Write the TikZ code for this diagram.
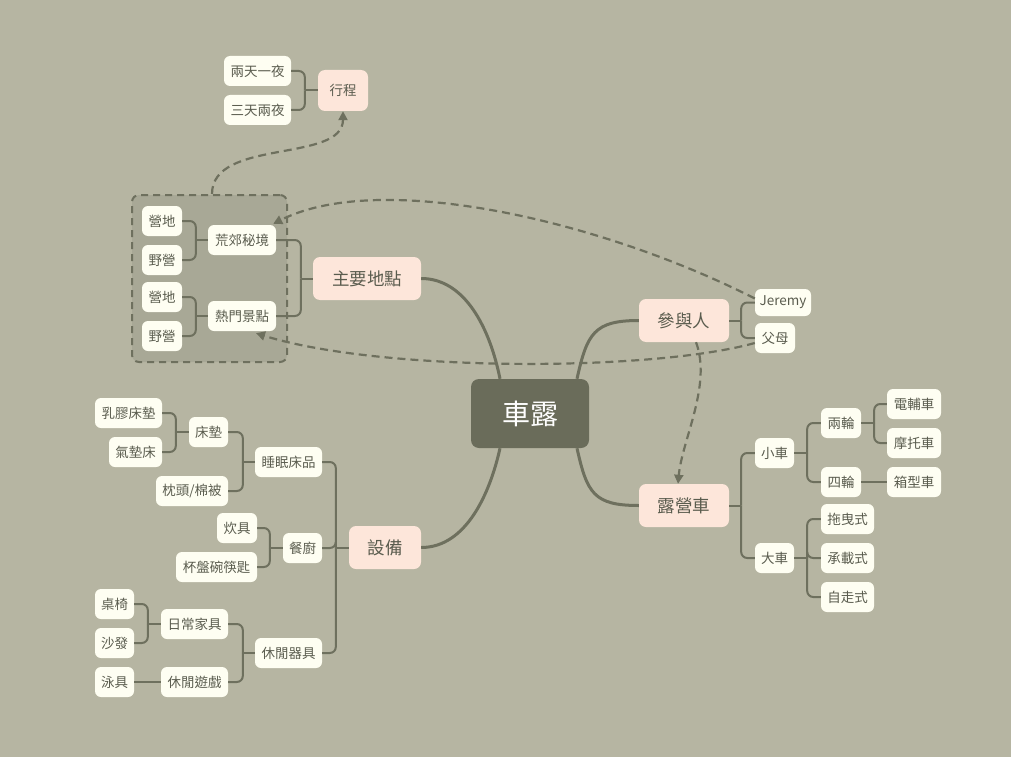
\documentclass[tikz,border=0pt]{standalone}
\usepackage{fontspec}
\newfontfamily\cjk{Noto Sans CJK TC}
\usetikzlibrary{arrows.meta,calc}
\definecolor{bg}{HTML}{B6B5A2}
\definecolor{cdark}{HTML}{6A6C5A}
\definecolor{peach}{HTML}{FDE6DA}
\definecolor{cream}{HTML}{FEFEF2}
\definecolor{txt}{HTML}{5A5C4E}
\definecolor{ln}{HTML}{6E705E}
\definecolor{grpfill}{HTML}{A8A896}
\begin{document}
\begin{tikzpicture}[x=1pt,y=-1pt,
  central/.style={fill=cdark, rounded corners=8pt, text=white, font=\cjk\fontsize{28}{32}\selectfont, minimum width=118pt, minimum height=69pt, inner sep=0pt},
  maintopic/.style={fill=peach, rounded corners=7pt, text=txt, font=\cjk\fontsize{17.5}{20}\selectfont, minimum height=43pt, inner sep=0pt},
  subtopic/.style={fill=cream, rounded corners=6pt, text=txt, font=\cjk\fontsize{13.5}{16}\selectfont, minimum height=30pt, inner sep=0pt},
  branch/.style={draw=ln, line width=3pt},
  tree/.style={draw=ln, line width=2pt, rounded corners=6pt},
  rel/.style={draw=ln, line width=2.2pt, dash pattern=on 8pt off 5pt, -{Triangle[length=9pt,width=9pt]}},
  grpbox/.style={draw=ln, fill=grpfill, line width=2pt, dash pattern=on 7pt off 5pt, rounded corners=7pt, inner sep=0pt}
]
\fill[bg] (0,0) rectangle (1011,757);
\useasboundingbox (0,0) rectangle (1011,757);

% group box
\node[grpbox, minimum width=155pt, minimum height=167pt] (grp) at (209.5,278.5) {};

% nodes
\node[central] (c) at (530,413.5) {車露};
\node[maintopic, minimum width=108pt] (mp) at (367,278.5) {主要地點};
\node[maintopic, minimum width=90pt] (pp) at (684,320.5) {參與人};
\node[maintopic, minimum width=90pt] (rv) at (684,505.5) {露營車};
\node[maintopic, minimum width=72pt] (eq) at (385,547.5) {設備};
\node[maintopic, minimum width=50pt, minimum height=41pt, font=\cjk\fontsize{13.5}{16}\selectfont] (trip) at (343,90.5) {行程};

\node[subtopic, minimum width=67pt] (t1) at (257.5,71) {兩天一夜};
\node[subtopic, minimum width=67pt] (t2) at (257.5,110) {三天兩夜};

\node[subtopic, minimum width=68pt] (hj) at (242,240) {荒郊秘境};
\node[subtopic, minimum width=68pt] (rm) at (242,316) {熱門景點};
\node[subtopic, minimum width=40pt] (h1) at (162,221) {營地};
\node[subtopic, minimum width=40pt] (h2) at (162,260) {野營};
\node[subtopic, minimum width=40pt] (r1) at (162,297) {營地};
\node[subtopic, minimum width=40pt] (r2) at (162,336) {野營};

\node[subtopic, minimum width=56pt, minimum height=27pt] (jer) at (783,302.5) {Jeremy};
\node[subtopic, minimum width=40pt] (par) at (775,338) {父母};

\node[subtopic, minimum width=39pt] (small) at (774.5,453) {小車};
\node[subtopic, minimum width=39pt] (big) at (774.5,558) {大車};
\node[subtopic, minimum width=40pt] (two) at (841,423) {兩輪};
\node[subtopic, minimum width=40pt] (four) at (841,482) {四輪};
\node[subtopic, minimum width=54pt] (ebike) at (914,404) {電輔車};
\node[subtopic, minimum width=54pt] (moto) at (914,443) {摩托車};
\node[subtopic, minimum width=54pt] (van) at (914,482) {箱型車};
\node[subtopic, minimum width=53pt] (tow) at (847.5,519) {拖曳式};
\node[subtopic, minimum width=53pt] (carry) at (847.5,558) {承載式};
\node[subtopic, minimum width=53pt] (self) at (847.5,597) {自走式};

\node[subtopic, minimum width=67pt] (sleep) at (288.5,462) {睡眠床品};
\node[subtopic, minimum width=39pt] (mat) at (208.5,432) {床墊};
\node[subtopic, minimum width=67pt] (latex) at (128.5,413) {乳膠床墊};
\node[subtopic, minimum width=53pt] (air) at (135.5,452) {氣墊床};
\node[subtopic, minimum width=72pt] (pillow) at (192,491) {枕頭/棉被};
\node[subtopic, minimum width=39pt] (kit) at (302.5,548) {餐廚};
\node[subtopic, minimum width=40pt] (cook) at (237,528) {炊具};
\node[subtopic, minimum width=81pt] (dish) at (216.5,567) {杯盤碗筷匙};
\node[subtopic, minimum width=67pt] (leis) at (288.5,653) {休閒器具};
\node[subtopic, minimum width=67pt] (furn) at (194.5,624) {日常家具};
\node[subtopic, minimum width=67pt] (game) at (194.5,682) {休閒遊戲};
\node[subtopic, minimum width=39pt] (table) at (114.5,604) {桌椅};
\node[subtopic, minimum width=39pt] (sofa) at (114.5,643) {沙發};
\node[subtopic, minimum width=39pt] (swim) at (114.5,682) {泳具};

% main branches
\draw[branch] (mp.east) .. controls +(44,0) and +(-10,-50) .. ([xshift=-30pt]c.north);
\draw[branch] (pp.west) .. controls +(-45,0) and +(10,-45) .. ([xshift=47pt]c.north);
\draw[branch] (rv.west) .. controls +(-45,0) and +(10,45) .. ([xshift=47pt]c.south);
\draw[branch] (eq.east) .. controls +(45,0) and +(-10,45) .. ([xshift=-30pt]c.south);

% tree brackets (left-facing)
\draw[tree] (mp.west) -- ++(-12,0);
\draw[tree] ($(mp.west)+(-12,0)$) |- (hj.east);
\draw[tree] ($(mp.west)+(-12,0)$) |- (rm.east);
\draw[tree] (hj.west) -- ++(-12,0);
\draw[tree] ($(hj.west)+(-12,0)$) |- (h1.east);
\draw[tree] ($(hj.west)+(-12,0)$) |- (h2.east);
\draw[tree] (rm.west) -- ++(-12,0);
\draw[tree] ($(rm.west)+(-12,0)$) |- (r1.east);
\draw[tree] ($(rm.west)+(-12,0)$) |- (r2.east);
\draw[tree] (trip.west) -- ++(-13,0);
\draw[tree] ($(trip.west)+(-13,0)$) |- (t1.east);
\draw[tree] ($(trip.west)+(-13,0)$) |- (t2.east);

\draw[tree] (eq.west) -- ++(-13,0);
\draw[tree] ($(eq.west)+(-13,0)$) |- (sleep.east);
\draw[tree] ($(eq.west)+(-13,0)$) |- (kit.east);
\draw[tree] ($(eq.west)+(-13,0)$) |- (leis.east);
\draw[tree] (sleep.west) -- ++(-12,0);
\draw[tree] ($(sleep.west)+(-12,0)$) |- (mat.east);
\draw[tree] ($(sleep.west)+(-12,0)$) |- (pillow.east);
\draw[tree] (mat.west) -- ++(-13,0);
\draw[tree] ($(mat.west)+(-13,0)$) |- (latex.east);
\draw[tree] ($(mat.west)+(-13,0)$) |- (air.east);
\draw[tree] (kit.west) -- ++(-13,0);
\draw[tree] ($(kit.west)+(-13,0)$) |- (cook.east);
\draw[tree] ($(kit.west)+(-13,0)$) |- (dish.east);
\draw[tree] (leis.west) -- ++(-12,0);
\draw[tree] ($(leis.west)+(-12,0)$) |- (furn.east);
\draw[tree] ($(leis.west)+(-12,0)$) |- (game.east);
\draw[tree] (furn.west) -- ++(-13,0);
\draw[tree] ($(furn.west)+(-13,0)$) |- (table.east);
\draw[tree] ($(furn.west)+(-13,0)$) |- (sofa.east);
\draw[tree] (game.west) -- (swim.east);

% tree brackets (right-facing)
\draw[tree] (pp.east) -- ++(12,0);
\draw[tree] ($(pp.east)+(12,0)$) |- (jer.west);
\draw[tree] ($(pp.east)+(12,0)$) |- (par.west);
\draw[tree] (rv.east) -- ++(12,0);
\draw[tree] ($(rv.east)+(12,0)$) |- (small.west);
\draw[tree] ($(rv.east)+(12,0)$) |- (big.west);
\draw[tree] (small.east) -- ++(13,0);
\draw[tree] ($(small.east)+(13,0)$) |- (two.west);
\draw[tree] ($(small.east)+(13,0)$) |- (four.west);
\draw[tree] (two.east) -- ++(13,0);
\draw[tree] ($(two.east)+(13,0)$) |- (ebike.west);
\draw[tree] ($(two.east)+(13,0)$) |- (moto.west);
\draw[tree] (four.east) -- (van.west);
\draw[tree] (big.east) -- ++(13,0);
\draw[tree] ($(big.east)+(13,0)$) |- (tow.west);
\draw[tree] ($(big.east)+(13,0)$) |- (carry.west);
\draw[tree] ($(big.east)+(13,0)$) |- (self.west);

% relationships
\draw[rel] ($(grp.north)+(2.5,0)$) .. controls +(0,-56) and +(0,52) .. (trip.south);
\draw[rel] ($(jer.west)+(0,-4)$) .. controls (600,220) and (380,170) .. ($(hj.north east)+(-3,-1)$);
\draw[rel] ($(par.west)+(0,5)$) .. controls (650,372) and (380,372) .. ($(rm.south)+(14,2)$);
\draw[rel] ($(pp.south)+(12,0)$) .. controls (712,385) and (682,440) .. ($(rv.north)+(-6,0)$);
\end{tikzpicture}
\end{document}
